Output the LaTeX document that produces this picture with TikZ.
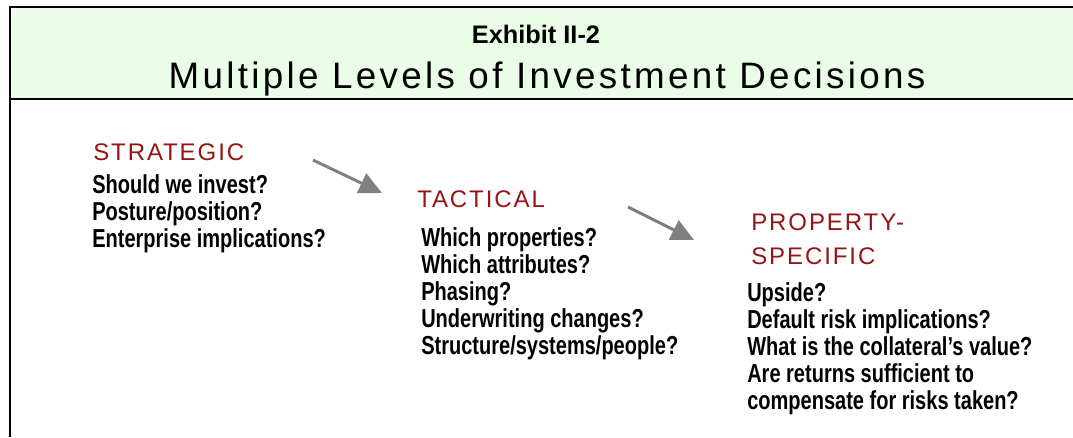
\documentclass[tikz,border=0pt]{standalone}
\usepackage{fontspec}
\setmainfont{Liberation Sans}
\newfontfamily\headfont[LetterSpace=8]{Liberation Sans}
\newfontfamily\titlefont[LetterSpace=9]{Liberation Sans}
\newfontfamily\bodyfont[FakeStretch=0.77]{Liberation Sans}
\usetikzlibrary{arrows.meta}
\definecolor{hdrgreen}{RGB}{234,253,231}
\definecolor{lvlred}{RGB}{150,20,20}
\definecolor{arrgray}{RGB}{128,128,128}
\tikzset{
  level/.style={anchor=base west,inner sep=0pt,text=lvlred,font=\headfont\fontsize{18pt}{18pt}\selectfont},
  body/.style={anchor=base west,inner sep=0pt,font=\bodyfont\bfseries\fontsize{19.5pt}{19.5pt}\selectfont},
  flow/.style={draw=arrgray,line width=2.2pt,-{Triangle[length=17pt,width=16pt]}}
}

\begin{document}
\begin{tikzpicture}[x=0.75pt,y=-0.75pt]
            \useasboundingbox (0,0) rectangle (1073,437);
            % header
            \fill[hdrgreen] (10,7) rectangle (1073,99);
            \draw[line width=1.6pt] (1073,7)--(10,7)--(10,437);
            \draw[line width=1.6pt] (10,99)--(1073,99);
            \node[anchor=base,inner sep=0pt,font=\bfseries\fontsize{19pt}{19pt}\selectfont] (exh) at (536,43) {Exhibit II-2};
            \node[anchor=base,inner sep=0pt,font=\titlefont\fontsize{27.6pt}{27.6pt}\selectfont] (title) at (547,88) {Multiple Levels of Investment Decisions};
            % the three levels
            \node[level] (strat) at (93,160) {STRATEGIC};
            \node[level] (tact) at (417,207) {TACTICAL};
            \node[level] (prop) at (751,230) {PROPERTY-};
            \node[level] (spec) at (751,264) {SPECIFIC};
            \foreach \t [count=\i] in {Should we invest?,Posture/position?,Enterprise implications?}
                \node[body] (s\i) at (92,166+27*\i) {\t};
            \foreach \t [count=\i] in {Which properties?,Which attributes?,Phasing?,Underwriting changes?,Structure/systems/people?}
                \node[body] (t\i) at (421,219+27*\i) {\t};
            \foreach \t [count=\i] in {Upside?,Default risk implications?,What is the collateral’s value?,Are returns sufficient to,compensate for risks taken?}
                \node[body] (p\i) at (747,274+27*\i) {\t};
            % arrows
            \coordinate (a1) at (313,160);
            \coordinate (b1) at (382,193);
            \coordinate (a2) at (628,207);
            \coordinate (b2) at (694,240);
            \draw[flow] (a1)--(b1);
            \draw[flow] (a2)--(b2);
        \end{tikzpicture}
\end{document}
